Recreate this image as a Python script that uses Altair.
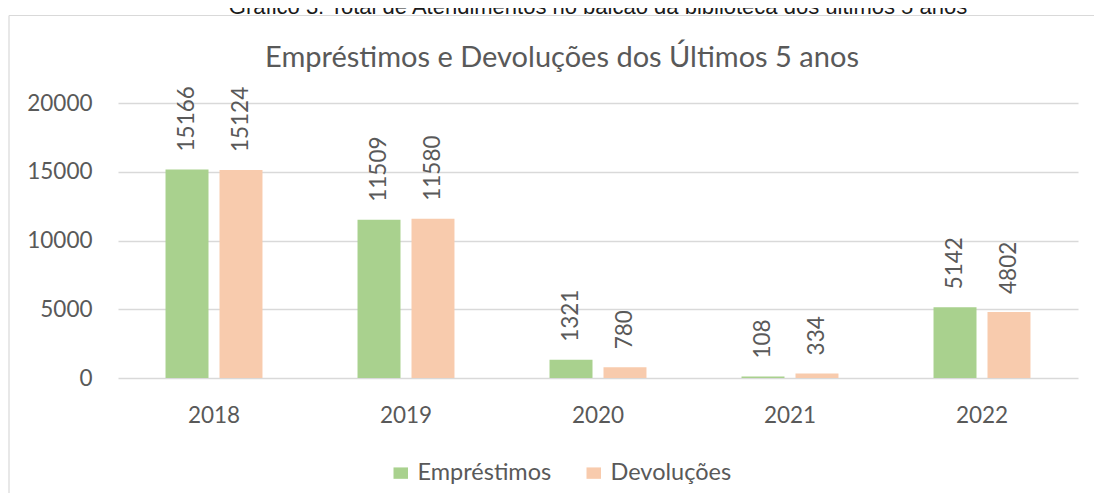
import altair as alt
import pandas as pd

anos = ["2018", "2019", "2020", "2021", "2022"]
emprestimos = [15166, 11509, 1321, 108, 5142]
devolucoes = [15124, 11580, 780, 334, 4802]
series = ["Empréstimos", "Devoluções"]
cores = ["#A9D18E", "#F8CBAD"]
y_ticks = [0, 5000, 10000, 15000, 20000]
titulo = "Empréstimos e Devoluções dos Últimos 5 anos"
legenda_fig = "Gráfico 3: Total de Atendimentos no balcão da biblioteca dos últimos 5 anos"

rows = []
for i, a in enumerate(anos):
    rows.append({"ano": a, "serie": series[0], "valor": emprestimos[i]})
    rows.append({"ano": a, "serie": series[1], "valor": devolucoes[i]})
df = pd.DataFrame(rows)
one = pd.DataFrame({"k": [0]})

FONT = "Lato"
TXT = "#595959"
GRID = "#D9D9D9"

x = alt.X(
    "ano:N", sort=anos, title=None,
    scale=alt.Scale(paddingInner=0.495, paddingOuter=0.2475),
    axis=alt.Axis(labelAngle=0, labelFontSize=22.5, labelColor=TXT, labelFont=FONT,
                  ticks=False, domain=False, labelPadding=26, grid=False),
)
xo = alt.XOffset("serie:N", sort=series, scale=alt.Scale(paddingInner=0.2037, paddingOuter=0))
y = alt.Y(
    "valor:Q", title=None,
    scale=alt.Scale(domain=[0, 20000], nice=False),
    axis=alt.Axis(values=y_ticks, format="d", labelFontSize=22.5, labelColor=TXT, labelFont=FONT,
                  ticks=False, domain=False, labelPadding=26, grid=True,
                  gridColor=GRID, gridWidth=1.3),
)

bars = alt.Chart(df).mark_bar().encode(
    x=x, xOffset=xo, y=y,
    color=alt.Color("serie:N", sort=series, scale=alt.Scale(domain=series, range=cores),
                    legend=alt.Legend(title=None)),
)

labels = alt.Chart(df).mark_text(
    angle=270, align="left", baseline="middle", dx=18,
    fontSize=22.5, font=FONT, color=TXT,
).encode(x=x, xOffset=xo, y=y, text=alt.Text("valor:Q", format="d"))

title_txt = alt.Chart(one).mark_text(
    align="center", baseline="middle", fontSize=29, font=FONT, color=TXT,
).encode(x=alt.value(444), y=alt.value(-45), text=alt.value(titulo))

caption = alt.Chart(one).mark_text(
    align="center", baseline="alphabetic", fontSize=22, font="Liberation Sans", color="#1A1A1A",
).encode(x=alt.value(480), y=alt.value(-89), text=alt.value(legenda_fig))

top_border = alt.Chart(one).mark_rule(color=GRID, strokeWidth=1.2).encode(
    x=alt.value(-109), x2=alt.value(1000), y=alt.value(-87.5))
left_border = alt.Chart(one).mark_rule(color=GRID, strokeWidth=1.2).encode(
    x=alt.value(-109), y=alt.value(-87.5), y2=alt.value(400))

chart = alt.layer(top_border, left_border, caption, title_txt, bars, labels).properties(
    width=960, height=275,
    autosize=alt.AutoSizeParams(type="none"),
    padding={"left": 110, "top": 95, "right": 16, "bottom": 115},
).configure_view(stroke=None).configure_legend(
    orient="none", legendX=271, legendY=358, direction="horizontal",
    symbolType="M-1,-0.786H1V0.786H-1Z", symbolSize=210, symbolStrokeWidth=0,
    labelFontSize=23.5, labelFont=FONT, labelColor=TXT, labelOffset=5,
    columnPadding=30, labelLimit=300,
)

chart.save("out.html", embed_options={"renderer": "svg", "actions": False})
